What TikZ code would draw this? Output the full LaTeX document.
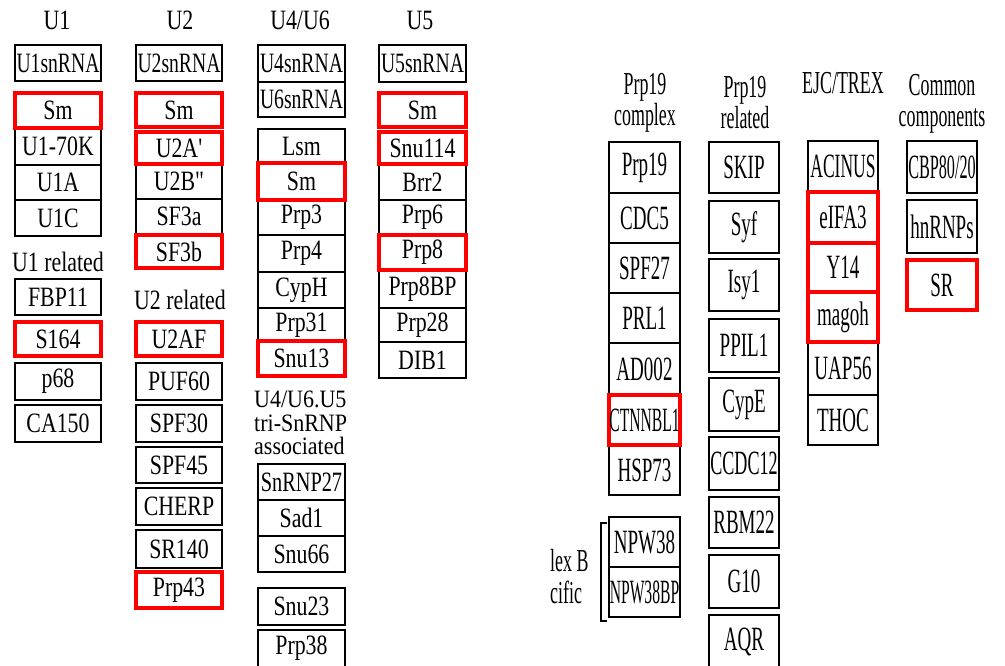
\documentclass[tikz,border=0pt]{standalone}
\usepackage{graphicx}
\usepackage{fontspec}
\newfontfamily\lf[FakeStretch=0.78]{Liberation Serif}
\newfontfamily\lfw[FakeStretch=0.88]{Liberation Serif}
\newfontfamily\rf[FakeStretch=0.56]{Liberation Serif}
\tikzset{
  lbox/.style={draw=black, line width=2pt, minimum width=86pt, inner sep=0pt, font=\lf\fontsize{28}{30}\selectfont},
  lred/.style={lbox, draw=red, line width=3.2pt},
  rbox/.style={draw=black, line width=2.4pt, minimum width=71pt, inner sep=0pt, font=\rf\fontsize{34}{36}\selectfont},
  rred/.style={rbox, draw=red, line width=3.8pt},
  ltitle/.style={font=\lf\fontsize{28}{30}\selectfont, inner sep=0pt},
  rtitle/.style={font=\rf\fontsize{32}{31}\selectfont, inner sep=0pt, align=center},
  sidetext/.style={font=\rf\fontsize{32}{34}\selectfont, inner sep=0pt, anchor=west},
}
\newcommand\bx[6]{\node[#1, minimum height={#5-#4}] (#2) at (#3,{(#4+#5)/2}) {#6};}
\begin{document}
\begin{tikzpicture}[x=1pt,y=-1pt]
\useasboundingbox (0,0) rectangle (1005,665);
% ---------- U1 ----------
\node[ltitle] (tU1) at (57,20) {U1};
\bx{lbox}{u1rna}{58}{45}{81}{\scalebox{0.9}[1]{U1snRNA}}
\bx{lbox}{u1k}{58}{128}{165}{U1-70K}
\bx{lbox}{u1a}{58}{165}{200}{U1A}
\bx{lbox}{u1c}{58}{200}{236}{U1C}
\bx{lred}{u1sm}{58}{93}{128}{Sm}
\node[ltitle] (u1rel) at (58,262) {U1 related};
\bx{lbox}{fbp}{58}{279}{315}{FBP11}
\bx{lbox}{p68}{58}{363}{400}{p68}
\bx{lbox}{ca150}{58}{405}{442}{CA150}
\bx{lred}{s164}{58}{322}{356}{S164}
% ---------- U2 ----------
\node[ltitle] (tU2) at (180,20) {U2};
\bx{lbox}{u2rna}{179}{45}{81}{\scalebox{0.9}[1]{U2snRNA}}
\bx{lbox}{u2b}{179}{164}{199}{U2B"}
\bx{lbox}{sf3a}{179}{199}{234}{SF3a}
\bx{lred}{u2sm}{179}{93}{127}{Sm}
\bx{lred}{u2a}{179}{132}{164}{U2A'}
\bx{lred}{sf3b}{179}{235}{268}{SF3b}
\node[ltitle] (u2rel) at (180,300) {U2 related};
\bx{lbox}{puf}{179}{363}{400}{PUF60}
\bx{lbox}{spf30}{179}{405}{442}{SPF30}
\bx{lbox}{spf45}{179}{447}{483}{SPF45}
\bx{lbox}{cherp}{179}{488}{525}{CHERP}
\bx{lbox}{sr140}{179}{530}{568}{SR140}
\bx{lred}{u2af}{179}{322}{356}{U2AF}
\bx{lred}{prp43}{179}{572}{608}{Prp43}
% ---------- U4/U6 ----------
\node[ltitle] (tU46) at (300,20) {U4/U6};
\bx{lbox, minimum width=87pt}{u4rna}{301.5}{45}{82}{\scalebox{0.9}[1]{U4snRNA}}
\bx{lbox, minimum width=87pt}{u6rna}{301.5}{82}{117}{\scalebox{0.9}[1]{U6snRNA}}
\bx{lbox, minimum width=87pt}{lsm}{301.5}{129}{163}{Lsm}
\bx{lbox, minimum width=87pt}{prp3}{301.5}{200}{235}{Prp3}
\bx{lbox, minimum width=87pt}{prp4}{301.5}{235}{272}{Prp4}
\bx{lbox, minimum width=87pt}{cyph}{301.5}{272}{308}{CypH}
\bx{lbox, minimum width=87pt}{prp31}{301.5}{308}{342}{Prp31}
\bx{lred, minimum width=87pt}{u46sm}{301.5}{163}{200}{Sm}
\bx{lred, minimum width=87pt}{snu13}{301.5}{341}{376}{Snu13}
\node[ltitle, anchor=west, align=left, font=\lfw\fontsize{25}{23.5}\selectfont] (tri) at (254,423) {U4/U6.U5\\tri-SnRNP\\associated};
\bx{lbox, minimum width=87pt}{snrnp27}{301.5}{464}{500}{\scalebox{0.93}[1]{SnRNP27}}
\bx{lbox, minimum width=87pt}{sad1}{301.5}{500}{536}{Sad1}
\bx{lbox, minimum width=87pt}{snu66}{301.5}{536}{572}{Snu66}
\bx{lbox, minimum width=87pt}{snu23}{301.5}{588}{625}{Snu23}
\bx{lbox, minimum width=87pt}{prp38}{301.5}{630}{667}{Prp38}
% ---------- U5 ----------
\node[ltitle] (tU5) at (420,20) {U5};
\bx{lbox, minimum width=87pt}{u5rna}{422.5}{45}{82}{\scalebox{0.9}[1]{U5snRNA}}
\bx{lbox, minimum width=87pt}{brr2}{422.5}{164}{200}{Brr2}
\bx{lbox, minimum width=87pt}{prp6}{422.5}{200}{235}{Prp6}
\bx{lbox, minimum width=87pt}{prp8bp}{422.5}{270}{308}{Prp8BP}
\bx{lbox, minimum width=87pt}{prp28}{422.5}{308}{342}{Prp28}
\bx{lbox, minimum width=87pt}{dib1}{422.5}{342}{378}{DIB1}
\bx{lred, minimum width=87pt}{u5sm}{422.5}{93}{127}{Sm}
\bx{lred, minimum width=87pt}{snu114}{422.5}{132}{164}{Snu114}
\bx{lred, minimum width=87pt}{prp8}{422.5}{235}{270}{Prp8}
% ---------- Prp19 complex ----------
\node[rtitle] (tP19c) at (645,103) {Prp19\\complex};
\bx{rbox}{prp19}{644.5}{142}{193}{Prp19}
\bx{rbox}{cdc5}{644.5}{193}{243}{CDC5}
\bx{rbox}{spf27}{644.5}{243}{293}{SPF27}
\bx{rbox}{prl1}{644.5}{293}{343}{PRL1}
\bx{rbox}{ad002}{644.5}{343}{395}{AD002}
\bx{rbox}{hsp73}{644.5}{445}{495}{HSP73}
\bx{rbox}{npw38}{644.5}{517}{567}{NPW38}
\bx{rbox}{npw38bp}{644.5}{567}{617}{\scalebox{0.82}[1]{NPW38BP}}
\bx{rred}{ctnnbl1}{644.5}{395}{445}{\scalebox{0.82}[1]{CTNNBL1}}
\draw[line width=1.5pt] (607,523) -- (601,523) -- (601,621) -- (607,621);
\node[sidetext] (cxb1) at (550,561) {lex B};
\node[sidetext] (cxb2) at (550,592) {cific};
% ---------- Prp19 related ----------
\node[rtitle] (tP19r) at (745,103) {Prp19\\related};
\bx{rbox, minimum width=70pt}{skip}{744}{142}{193}{SKIP}
\bx{rbox, minimum width=70pt}{syf}{744}{201}{253}{Syf}
\bx{rbox, minimum width=70pt}{isy1}{744}{259}{311}{Isy1}
\bx{rbox, minimum width=70pt}{ppil1}{744}{319}{372}{PPIL1}
\bx{rbox, minimum width=70pt}{cype}{744}{378}{431}{CypE}
\bx{rbox, minimum width=70pt}{ccdc12}{744}{437}{490}{\scalebox{0.95}[1]{CCDC12}}
\bx{rbox, minimum width=70pt}{rbm22}{744}{497}{548}{RBM22}
\bx{rbox, minimum width=70pt}{g10}{744}{555}{608}{G10}
\bx{rbox, minimum width=70pt}{aqr}{744}{615}{668}{AQR}
% ---------- EJC/TREX ----------
\node[rtitle] (tEJC) at (843,83) {EJC/TREX};
\bx{rbox, minimum width=70pt}{acinus}{843}{141}{192}{\scalebox{0.92}[1]{ACINUS}}
\bx{rbox, minimum width=70pt}{uap56}{843}{342}{395}{UAP56}
\bx{rbox, minimum width=70pt}{thoc}{843}{395}{445}{THOC}
\bx{rred, minimum width=70pt}{eifa3}{843}{192}{243}{eIFA3}
\bx{rred, minimum width=70pt}{y14}{843}{243}{292}{Y14}
\bx{rred, minimum width=70pt}{magoh}{843}{292}{342}{magoh}
% ---------- Common components ----------
\node[rtitle] (tCom) at (942,104) {Common\\components};
\bx{rbox, minimum width=70pt}{cbp}{942}{141}{193}{\scalebox{0.85}[1]{CBP80/20}}
\bx{rbox, minimum width=70pt}{hnrnp}{942}{200}{253}{hnRNPs}
\bx{rred, minimum width=70pt}{sr}{942}{260}{310}{SR}
\end{tikzpicture}
\end{document}
